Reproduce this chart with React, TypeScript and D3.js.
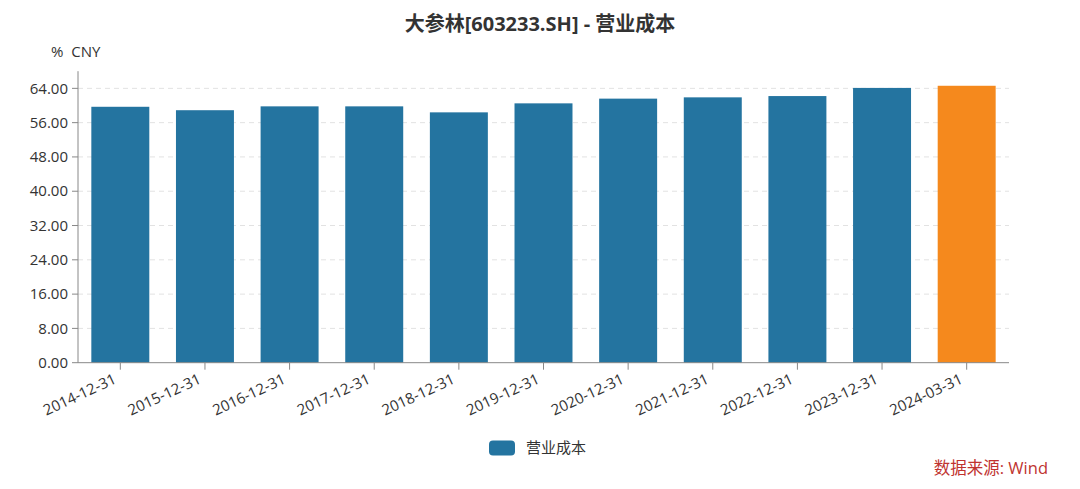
import * as d3 from 'd3';

// 营业成本 data
const categories = [
    '2014-12-31', '2015-12-31', '2016-12-31', '2017-12-31', '2018-12-31', '2019-12-31',
    '2020-12-31', '2021-12-31', '2022-12-31', '2023-12-31', '2024-03-31',
];
const values = [59.7, 58.9, 59.8, 59.8, 58.4, 60.5, 61.6, 61.9, 62.2, 64.1, 64.6];
const yTicks = [0, 8, 16, 24, 32, 40, 48, 56, 64];
const highlightCategory = '2024-03-31';
const seriesName = '营业成本';
const title = '大参林[603233.SH] - 营业成本';
const unitLabel = '%  CNY';
const sourceLabel = '数据来源: Wind';

const width = 1080;
const height = 489;
const marginLeft = 78;
const marginRight = 71;
const plotTop = 71.2;
const plotBottom = 362.7;

const blue = '#2474a0';
const orange = '#f5891d';
const font = '"Open Sans", "Noto Sans CJK SC", sans-serif';

const App = () => {
    const x = d3.scaleBand<string>()
        .domain(categories)
        .range([marginLeft, width - marginRight])
        .paddingInner(0.315)
        .paddingOuter(0.1575);
    const y = d3.scaleLinear()
        .domain([0, 68])
        .range([plotBottom, plotTop]);

    const bw = x.bandwidth();

    // Grid + y ticks
    const yAxisTicks = yTicks.map((t) => (
        <g key={t} transform={`translate(0, ${y(t)})`}>
            {t > 0 && (
                <line x1={marginLeft} x2={width - marginRight} stroke="#e2e2e2" strokeDasharray="5,4" />
            )}
            <line x1={marginLeft - 6} x2={marginLeft} stroke="#888" />
            <text x={marginLeft - 10} dy="0.35em" textAnchor="end" style={{ font: `15px ${font}`, fill: '#333' }}>
                {d3.format('.2f')(t)}
            </text>
        </g>
    ));

    const bars = categories.map((c, i) => (
        <rect
            key={c}
            x={x(c)}
            y={y(values[i])}
            width={bw}
            height={y(0) - y(values[i])}
            fill={c === highlightCategory ? orange : blue}
        />
    ));

    const xAxisTicks = categories.map((c) => {
        const cx = (x(c) || 0) + bw / 2;
        return (
            <g key={c}>
                <line x1={cx} x2={cx} y1={plotBottom} y2={plotBottom + 7} stroke="#888" />
                <text
                    transform={`translate(${cx - 3}, ${plotBottom + 20}) rotate(-25)`}
                    textAnchor="end"
                    style={{ font: `15px ${font}`, fill: '#333' }}
                >
                    {c}
                </text>
            </g>
        );
    });

    return (
        <div style={{ position: 'absolute', left: 0, top: 0 }}>
            <svg width={width} height={height} style={{ display: 'block', background: '#fff' }}>
                <text x={width / 2} y={31} textAnchor="middle" style={{ font: `bold 20px ${font}`, fill: '#333' }}>
                    {title}
                </text>
                <text x={51} y={57} style={{ font: `15px ${font}`, fill: '#333', whiteSpace: 'pre' }}>{unitLabel}</text>
                {yAxisTicks}
                {bars}
                <line x1={marginLeft} x2={marginLeft} y1={plotTop} y2={plotBottom} stroke="#888" />
                <line x1={marginLeft} x2={width - marginRight} y1={plotBottom} y2={plotBottom} stroke="#888" />
                {xAxisTicks}
                <rect x={489} y={440.5} width={26} height={15} rx={4} fill={blue} />
                <text x={526} y={448} dy="0.35em" style={{ font: `15px ${font}`, fill: '#333' }}>{seriesName}</text>
                <text x={1048} y={468} dy="0.35em" textAnchor="end" style={{ font: `16.5px ${font}`, fill: '#c0332f' }}>
                    {sourceLabel}
                </text>
            </svg>
        </div>
    );
};

export default App;
